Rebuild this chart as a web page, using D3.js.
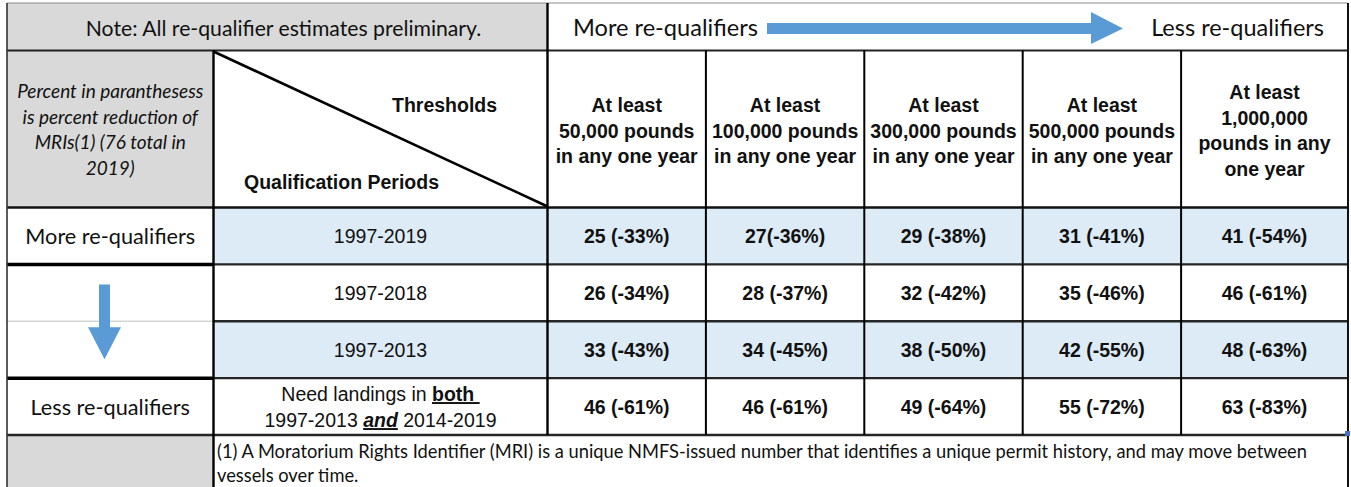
<!DOCTYPE html>
<html>
<head>
<meta charset="utf-8">
<script src="https://cdn.jsdelivr.net/npm/d3@7/dist/d3.min.js"></script>
<style>
    html, body { margin: 0; padding: 0; background: #fff; }
    svg { display: block; }
    .calibri { font-family: Lato, "Open Sans", sans-serif; fill: #111; }
    .arial { font-family: "Liberation Sans", Arial, sans-serif; fill: #111; }
</style>
</head>
<body>
<div id="chart"></div>
<script>
// Table values
var thresholds = [
    ['At least', '50,000 pounds', 'in any one year'],
    ['At least', '100,000 pounds', 'in any one year'],
    ['At least', '300,000 pounds', 'in any one year'],
    ['At least', '500,000 pounds', 'in any one year'],
    ['At least', '1,000,000', 'pounds in any', 'one year']
];
var periods = ['1997-2019', '1997-2018', '1997-2013', 'both'];
var sideLabels = ['More re-qualifiers', null, null, 'Less re-qualifiers'];
var counts = [
    [25, 27, 29, 31, 41],
    [26, 28, 32, 35, 46],
    [33, 34, 38, 42, 48],
    [46, 46, 49, 55, 63]
];
var percents = [
    [-33, -36, -38, -41, -54],
    [-34, -37, -42, -46, -61],
    [-43, -45, -50, -55, -63],
    [-61, -61, -64, -72, -83]
];
// the source prints this one cell without a space
var tightCells = ['0-1'];
var noteText = 'Note: All re-qualifier estimates preliminary.';
var sideNote = ['Percent in paranthesess', 'is percent reduction of', 'MRIs(1) (76 total in', '2019)'];
var footnote = [
    '(1) A Moratorium Rights Identifier (MRI) is a unique NMFS-issued number that identifies a unique permit history, and may move between',
    'vessels over time.'
];

var WIDTH = 1351,
    HEIGHT = 487,
    LEFT = 7,
    COL0 = 213.5,
    DIAG = 547.5,
    RIGHT = 1348,
    TOP = 3,
    NOTE_BOTTOM = 50.5,
    HEAD_BOTTOM = 207.5,
    BODY_BOTTOM = 435,
    GRAY = '#d9d9d9',
    BLUE = '#ddebf7',
    ARROW = '#5b9bd5',
    LINE_H = 25.7;

var svg = d3.select('#chart').append('svg')
    .attr('width', WIDTH)
    .attr('height', HEIGHT);

var x = d3.scaleBand()
    .domain(d3.range(thresholds.length))
    .range([DIAG, DIAG + 158.4 * thresholds.length]);

var y = d3.scaleBand()
    .domain(periods)
    .range([HEAD_BOTTOM, BODY_BOTTOM]);

function colRight(i) {
    return i === thresholds.length - 1 ? RIGHT : x(i) + x.bandwidth();
}
function colMid(i) {
    return (x(i) + colRight(i)) / 2;
}
function rowMid(p) {
    return y(p) + y.bandwidth() / 2;
}

// Backgrounds
svg.append('rect').attr('x', LEFT).attr('y', TOP)
    .attr('width', DIAG - LEFT).attr('height', NOTE_BOTTOM - TOP).attr('fill', GRAY);
svg.append('rect').attr('x', LEFT).attr('y', NOTE_BOTTOM)
    .attr('width', COL0 - LEFT).attr('height', HEAD_BOTTOM - NOTE_BOTTOM).attr('fill', GRAY);
svg.append('rect').attr('x', LEFT).attr('y', BODY_BOTTOM)
    .attr('width', COL0 - LEFT).attr('height', HEIGHT - BODY_BOTTOM).attr('fill', GRAY);

svg.selectAll('rect.band')
    .data(periods.filter(function(d, i) { return i % 2 === 0; }))
    .enter()
    .append('rect')
    .classed('band', true)
    .attr('x', COL0)
    .attr('y', function(d) { return y(d); })
    .attr('width', RIGHT - COL0)
    .attr('height', y.bandwidth())
    .attr('fill', BLUE);

// Grid lines
function hline(x1, x2, yy, color, w) {
    svg.append('line').attr('x1', x1).attr('x2', x2).attr('y1', yy).attr('y2', yy)
        .attr('stroke', color).attr('stroke-width', w);
}
function vline(xx, y1, y2, color, w) {
    svg.append('line').attr('x1', xx).attr('x2', xx).attr('y1', y1).attr('y2', y2)
        .attr('stroke', color).attr('stroke-width', w);
}

hline(LEFT, RIGHT, TOP, '#8a8a8a', 1.2);
hline(LEFT, RIGHT, NOTE_BOTTOM, '#222', 2.2);
hline(LEFT, RIGHT, HEAD_BOTTOM, '#111', 2.6);

periods.forEach(function(p, i) {
    if (i === 0) return;
    hline(COL0, RIGHT, y(p), '#262626', 2.4);
    if (i === 2) {
        hline(LEFT, COL0, y(p), '#d4d4d4', 1.5);
    } else {
        hline(LEFT, COL0, y(p), '#000', 3.5);
    }
});
hline(LEFT, RIGHT, BODY_BOTTOM, '#262626', 2.6);

vline(LEFT, TOP, HEIGHT, '#333', 1.6);
vline(RIGHT, TOP, HEIGHT, '#111', 2);
vline(DIAG, TOP, BODY_BOTTOM, '#000', 2.4);
vline(COL0, NOTE_BOTTOM, HEIGHT, '#000', 2.4);
thresholds.forEach(function(t, i) {
    if (i === 0) return;
    vline(x(i), NOTE_BOTTOM, BODY_BOTTOM, '#000', 2);
});

// Diagonal header cell
svg.append('line')
    .attr('x1', COL0).attr('y1', NOTE_BOTTOM + 1)
    .attr('x2', DIAG).attr('y2', HEAD_BOTTOM - 1)
    .attr('stroke', '#000').attr('stroke-width', 2.6);

svg.append('text').attr('class', 'arial')
    .attr('x', 392).attr('y', 111.5)
    .attr('font-size', 19.5).attr('font-weight', 'bold')
    .text('Thresholds');
svg.append('text').attr('class', 'arial')
    .attr('x', 244).attr('y', 189)
    .attr('font-size', 19.5).attr('font-weight', 'bold')
    .text('Qualification Periods');

// Top row
svg.append('text').attr('class', 'calibri')
    .attr('x', 283.5).attr('y', 36)
    .attr('text-anchor', 'middle')
    .attr('font-size', 21.2)
    .text(noteText);

svg.append('text').attr('class', 'calibri')
    .attr('x', 573).attr('y', 36)
    .attr('font-size', 23.6)
    .text('More re-qualifiers');
svg.append('text').attr('class', 'calibri')
    .attr('x', 1324).attr('y', 36)
    .attr('text-anchor', 'end')
    .attr('font-size', 23.5)
    .text('Less re-qualifiers');

svg.append('path')
    .attr('d', d3.line()([
        [767, 23], [1091, 23], [1091, 12], [1123, 28.5], [1091, 44], [1091, 34], [767, 34]
    ]) + 'Z')
    .attr('fill', ARROW);

// Side note (italic)
var sideText = svg.append('text').attr('class', 'calibri')
    .attr('font-size', 19)
    .attr('font-style', 'italic')
    .attr('text-anchor', 'middle');
sideText.selectAll('tspan')
    .data(sideNote)
    .enter()
    .append('tspan')
    .attr('x', (LEFT + COL0) / 2)
    .attr('y', function(d, i) { return 136.5 + (i - (sideNote.length - 1) / 2) * LINE_H; })
    .text(function(d) { return d; });

// Threshold headers
thresholds.forEach(function(lines, i) {
    var t = svg.append('text').attr('class', 'arial')
        .attr('font-size', 19.5)
        .attr('font-weight', 'bold')
        .attr('text-anchor', 'middle');
    t.selectAll('tspan')
        .data(lines)
        .enter()
        .append('tspan')
        .attr('x', colMid(i))
        .attr('y', function(d, k) { return 137.5 + (k - (lines.length - 1) / 2) * LINE_H; })
        .text(function(d) { return d; });
});

// Period labels
periods.forEach(function(p, r) {
    if (r < 3) {
        svg.append('text').attr('class', 'arial')
            .attr('x', (COL0 + DIAG) / 2)
            .attr('y', rowMid(p) + 7)
            .attr('text-anchor', 'middle')
            .attr('font-size', 19.5)
            .text(p);
        return;
    }
    var mid = (COL0 + DIAG) / 2;
    var l1 = svg.append('text').attr('class', 'arial')
        .attr('x', mid).attr('y', rowMid(p) - 5.5)
        .attr('text-anchor', 'middle')
        .attr('font-size', 19.5);
    l1.append('tspan').text('Need landings in ');
    l1.append('tspan').attr('font-weight', 'bold')
        .style('text-decoration', 'underline')
        .text(p + '\u00a0');
    var l2 = svg.append('text').attr('class', 'arial')
        .attr('x', mid).attr('y', rowMid(p) + 20.5)
        .attr('text-anchor', 'middle')
        .attr('font-size', 19.5);
    l2.append('tspan').text('1997-2013 ');
    l2.append('tspan').attr('font-weight', 'bold').attr('font-style', 'italic')
        .style('text-decoration', 'underline')
        .text('and');
    l2.append('tspan').text(' 2014-2019');
});

// Side labels
svg.selectAll('text.side')
    .data(periods)
    .enter()
    .filter(function(d, i) { return sideLabels[i]; })
    .append('text')
    .attr('class', 'calibri side')
    .attr('x', (LEFT + COL0) / 2)
    .attr('y', function(d) { return rowMid(d) + 8; })
    .attr('text-anchor', 'middle')
    .attr('font-size', 21.7)
    .text(function(d) { return sideLabels[periods.indexOf(d)]; });

// Down arrow spanning the two middle rows
var ax = 104.5,
    shaftTop = y(periods[1]) + 20,
    headBase = y(periods[2]) + 6,
    tip = y(periods[2]) + 38;
svg.append('path')
    .attr('d', d3.line()([
        [ax - 5.5, shaftTop], [ax + 5.5, shaftTop], [ax + 5.5, headBase], [ax + 16.5, headBase],
        [ax, tip], [ax - 16.5, headBase], [ax - 5.5, headBase]
    ]) + 'Z')
    .attr('fill', ARROW);

// Value cells
periods.forEach(function(p, r) {
    svg.selectAll(null)
        .data(counts[r])
        .enter()
        .append('text')
        .attr('class', 'arial')
        .attr('x', function(d, i) { return colMid(i); })
        .attr('y', rowMid(p) + 7)
        .attr('text-anchor', 'middle')
        .attr('font-size', 19.5)
        .attr('font-weight', 'bold')
        .text(function(d, i) {
            var gap = tightCells.indexOf(r + '-' + i) >= 0 ? '' : ' ';
            return d + gap + '(' + percents[r][i] + '%)';
        });
});

// Footnote
svg.selectAll('text.foot')
    .data(footnote)
    .enter()
    .append('text')
    .attr('class', 'calibri foot')
    .attr('x', 217)
    .attr('y', function(d, i) { return 457.5 + i * 24.5; })
    .attr('font-size', 18.3)
    .text(function(d) { return d; });

// Excel fill handle
svg.append('rect').attr('x', 1345).attr('y', 431).attr('width', 5).attr('height', 5).attr('fill', '#4472c4');
</script>
</body>
</html>
